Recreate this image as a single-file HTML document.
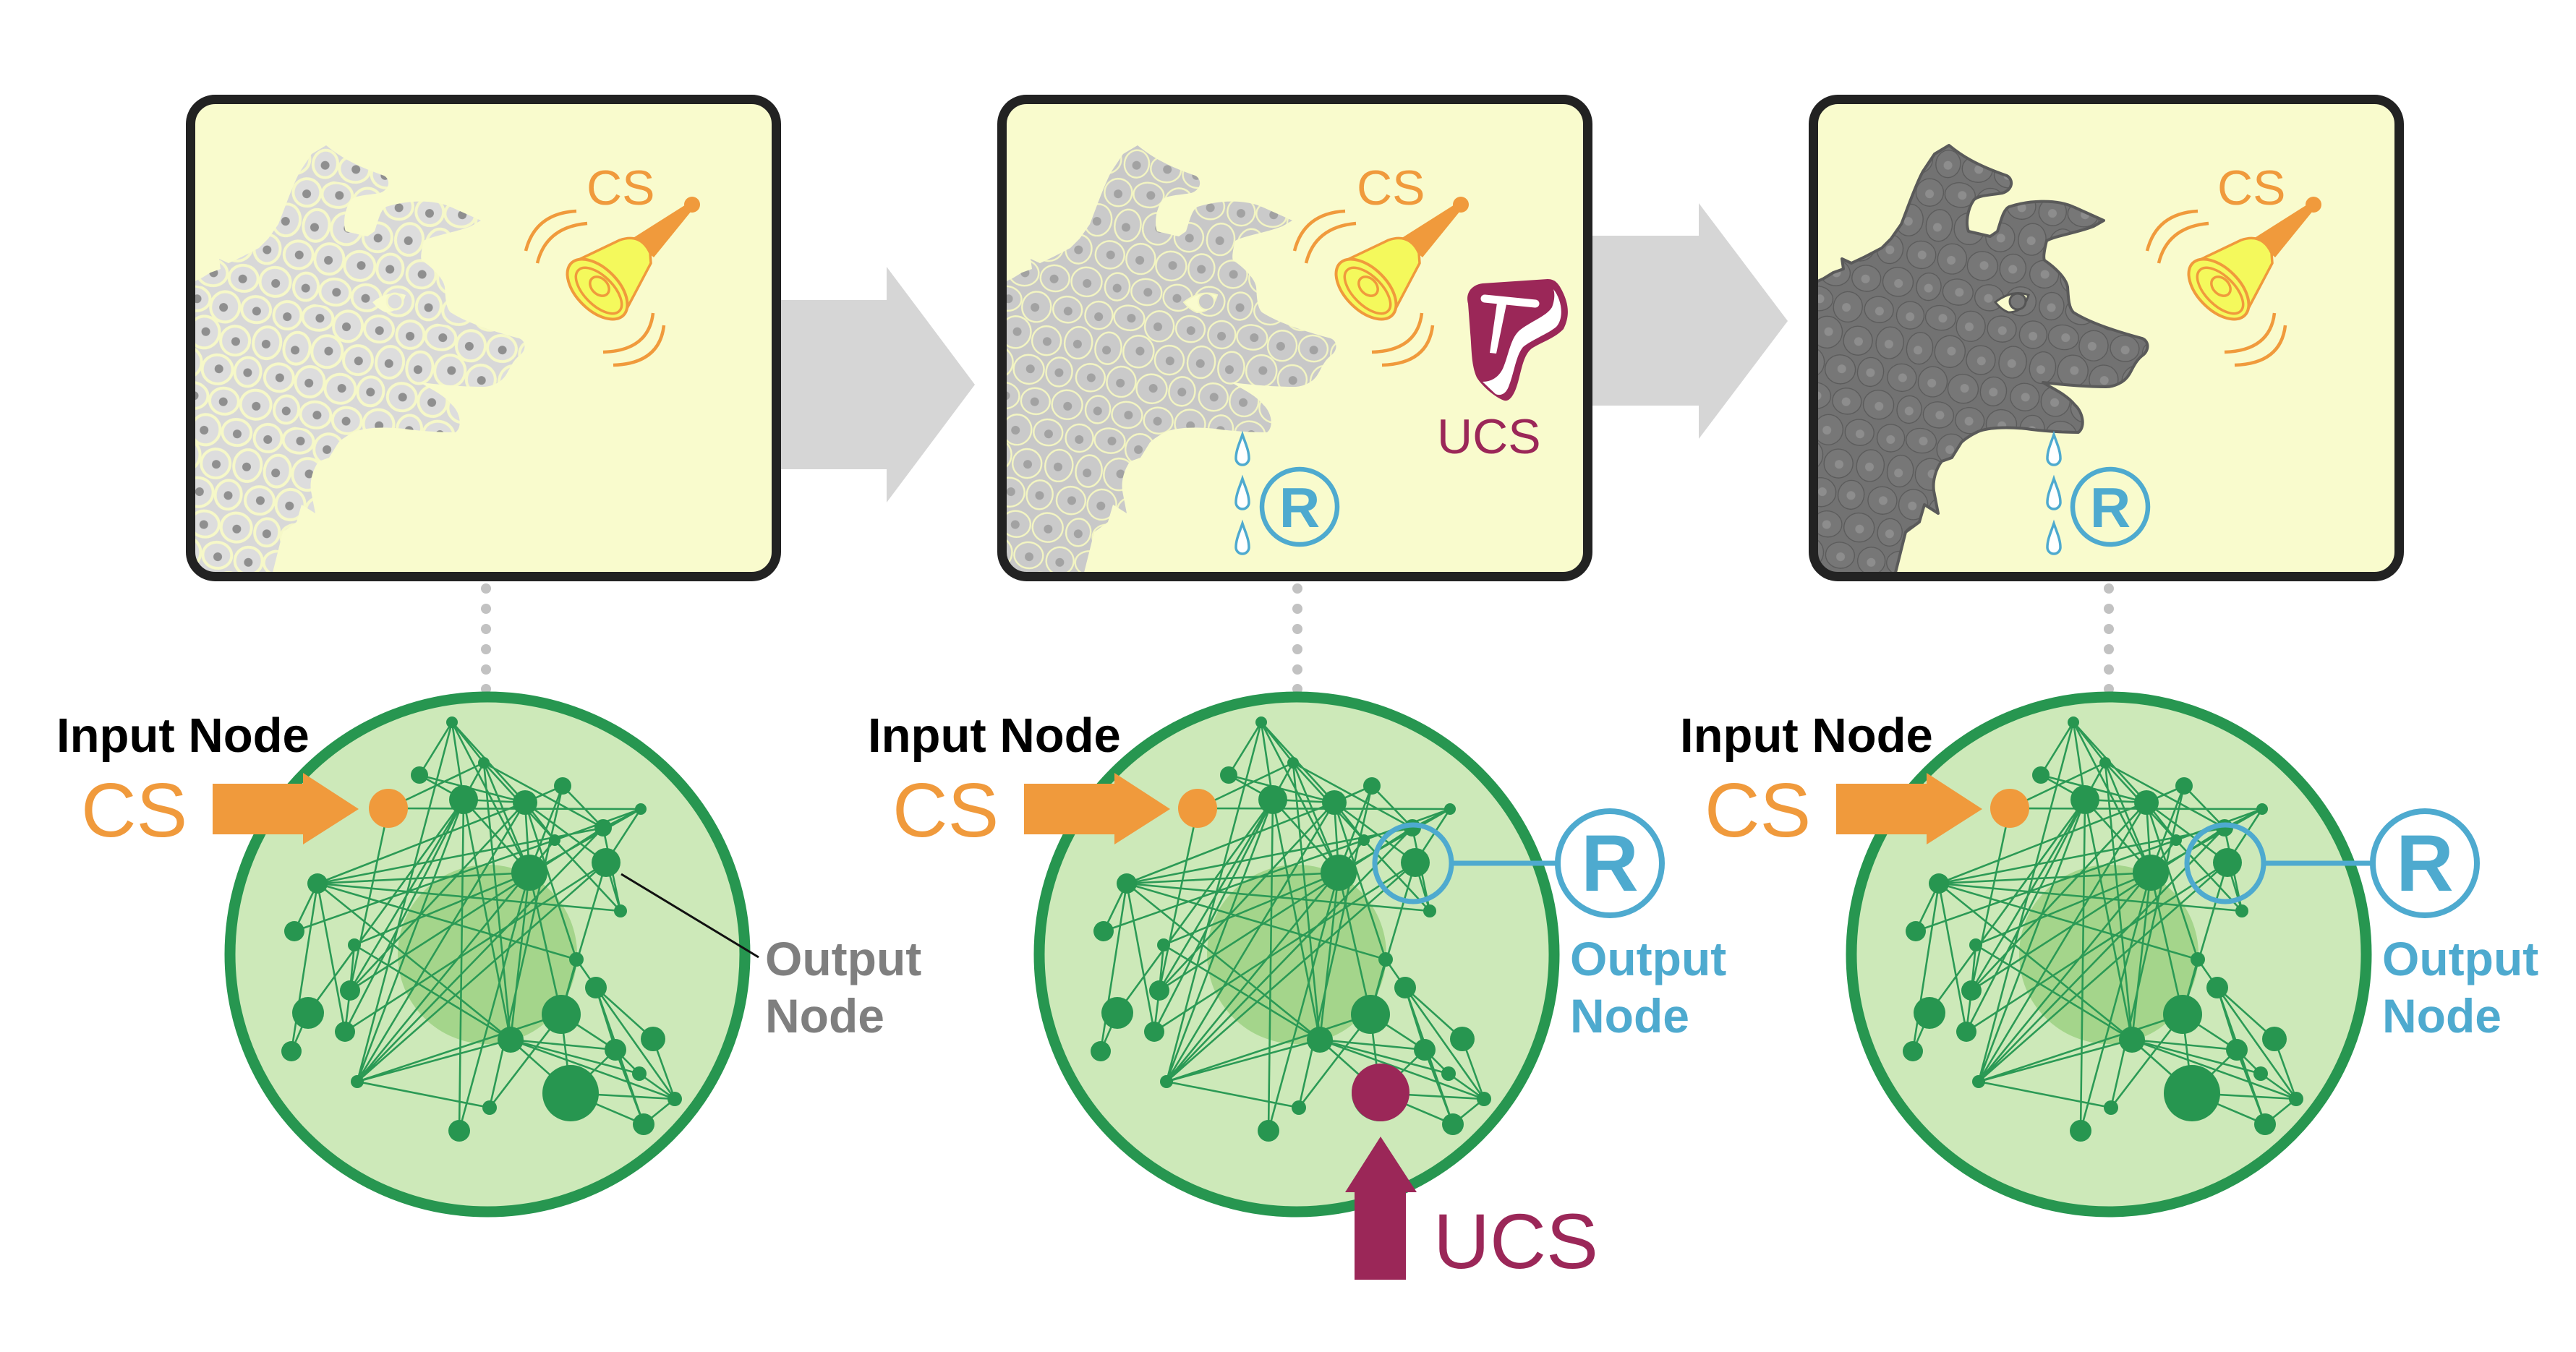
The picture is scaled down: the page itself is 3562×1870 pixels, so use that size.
<!DOCTYPE html>
<html>
<head>
<meta charset="utf-8">
<style>
html,body{margin:0;padding:0;background:#fff;}
body{width:3562px;height:1870px;overflow:hidden;}
svg{display:block;font-family:"Liberation Sans",Arial,sans-serif;}
</style>
</head>
<body>
<svg xmlns="http://www.w3.org/2000/svg" width="3562" height="1870" viewBox="0 0 3562 1870">
<defs>
  <g id="cellE">
    <ellipse cx="21" cy="21" rx="19" ry="19"/>
    <ellipse cx="63" cy="18" rx="21" ry="17"/>
    <ellipse cx="106" cy="23" rx="20" ry="21"/>
    <ellipse cx="149" cy="20" rx="20" ry="18"/>
    <ellipse cx="41" cy="64" rx="18" ry="22"/>
    <ellipse cx="83" cy="62" rx="21" ry="22"/>
    <ellipse cx="127" cy="67" rx="20" ry="20"/>
    <ellipse cx="171" cy="63" rx="19" ry="22"/>
    <ellipse cx="-1" cy="63" rx="19" ry="22"/>
    <ellipse cx="23" cy="108" rx="20" ry="19"/>
    <ellipse cx="66" cy="107" rx="20" ry="21"/>
    <ellipse cx="109" cy="110" rx="21" ry="20"/>
    <ellipse cx="151" cy="107" rx="18" ry="20"/>
    <ellipse cx="40" cy="150" rx="17" ry="19"/>
    <ellipse cx="81" cy="151" rx="21" ry="18"/>
    <ellipse cx="125" cy="152" rx="20" ry="18"/>
    <ellipse cx="169" cy="150" rx="21" ry="20"/>
    <ellipse cx="-3" cy="150" rx="21" ry="20"/>
  </g>
  <g id="cellD">
    <circle cx="21" cy="23" r="6"/><circle cx="66" cy="18" r="6"/><circle cx="104" cy="24" r="6"/><circle cx="150" cy="22" r="6"/>
    <circle cx="39" cy="67" r="6"/><circle cx="85" cy="61" r="6"/><circle cx="128" cy="68" r="6"/><circle cx="170" cy="65" r="6"/><circle cx="-2" cy="65" r="6"/>
    <circle cx="24" cy="108" r="6"/><circle cx="65" cy="109" r="6"/><circle cx="111" cy="109" r="6"/><circle cx="151" cy="108" r="6"/>
    <circle cx="40" cy="152" r="6"/><circle cx="83" cy="151" r="6"/><circle cx="124" cy="153" r="6"/><circle cx="170" cy="152" r="6"/><circle cx="-2" cy="152" r="6"/>
  </g>
  <pattern id="c1" width="172" height="172" patternUnits="userSpaceOnUse" patternTransform="rotate(9)">
    <rect width="172" height="172" fill="#d8d8d8"/>
    <use href="#cellE" fill="#dddddd" stroke="#f6f8c8" stroke-width="4"/>
    <use href="#cellD" fill="#8f8f8f"/>
  </pattern>
  <pattern id="c2" width="172" height="172" patternUnits="userSpaceOnUse" patternTransform="rotate(9)">
    <rect width="172" height="172" fill="#c8c8c8"/>
    <use href="#cellE" fill="#cacaca" stroke="#f3f5c2" stroke-width="2.4"/>
    <use href="#cellD" fill="#a2a2a2"/>
  </pattern>
  <pattern id="c3" width="172" height="172" patternUnits="userSpaceOnUse" patternTransform="rotate(9)">
    <rect width="172" height="172" fill="#727272"/>
    <use href="#cellE" fill="#777777" stroke="#5a5a5a" stroke-width="1.3"/>
    <use href="#cellD" fill="#8d8d8d"/>
  </pattern>
  <clipPath id="cp1"><rect x="257" y="131" width="823" height="673" rx="40"/></clipPath>
  <clipPath id="cp2"><rect x="1379" y="131" width="823" height="673" rx="40"/></clipPath>
  <clipPath id="cp3"><rect x="2501" y="131" width="823" height="673" rx="40"/></clipPath>

  <path id="dog" d="M1385,392 L1400,385 L1413,377 L1427,372 L1425,358 L1438,364 L1457,355 L1480,343 L1493,330 L1507,310
    C1515,290 1527,255 1537,237 L1553,213 L1573,201
    C1590,215 1610,228 1653,243 C1662,248 1662,262 1647,267 C1630,270 1612,270 1607,277
    C1598,290 1596,310 1600,320 L1630,327 L1640,320 C1645,305 1648,290 1656,286
    C1680,278 1720,274 1747,287 L1787,305 L1773,313 C1750,322 1720,326 1708,333
    C1705,345 1703,356 1705,360 C1720,370 1735,385 1737,397 C1738,410 1738,425 1745,432
    C1770,448 1810,460 1840,468 C1850,472 1850,485 1840,492 C1830,500 1826,512 1822,518
    C1815,530 1800,535 1790,535 C1760,535 1730,532 1703,529 C1715,537 1735,545 1747,560
    C1758,570 1762,590 1752,598 C1730,598 1700,596 1680,593 C1660,591 1630,590 1613,597
    C1600,603 1592,610 1590,612 L1577,633 L1563,638 C1555,648 1550,665 1552,679
    L1558,710 L1539,698 L1532,722 L1513,736 L1507,760 L1497,800 L1385,800 Z"/>

  <g id="bell">
    <g fill="none" stroke="#f09a3c" stroke-width="4.5">
      <path d="M797,292 Q740,295 727,347"/>
      <path d="M812,309 Q755,314 743,364"/>
      <path d="M903,433 Q897,485 834,487"/>
      <path d="M918,450 Q912,503 848,505"/>
    </g>
    <polygon points="953,280 960,287 904,356 874,330" fill="#f09a3c"/>
    <circle cx="957" cy="283" r="11" fill="#f09a3c"/>
    <path d="M790,364 L857,332 Q886,322 899,350 L900,364 L862,436 Z" fill="#f4f95c" stroke="#f09a3c" stroke-width="3.5" stroke-linejoin="round"/>
    <ellipse cx="826" cy="400" rx="51" ry="29" transform="rotate(45 826 400)" fill="#f4f95c" stroke="#f09a3c" stroke-width="4"/>
    <ellipse cx="828" cy="402" rx="40" ry="20" transform="rotate(45 828 402)" fill="none" stroke="#f09a3c" stroke-width="3.5"/>
    <ellipse cx="829" cy="396" rx="15" ry="11" transform="rotate(45 829 396)" fill="none" stroke="#f09a3c" stroke-width="3.5"/>
  </g>

  <g id="drops" fill="#ffffff" stroke="#4eaacf" stroke-width="3.5">
    <path d="M0,0 C4,12 9,22 9,33 A9,9 0 0 1 -9,33 C-9,22 -4,12 0,0 Z"/>
    <path d="M0,61 C4,73 9,83 9,94 A9,9 0 0 1 -9,94 C-9,83 -4,73 0,61 Z"/>
    <path d="M0,123 C4,135 9,145 9,156 A9,9 0 0 1 -9,156 C-9,145 -4,135 0,123 Z"/>
  </g>

  <g id="net">
    <circle r="356" fill="#cde9b9" stroke="#279650" stroke-width="15"/>
    <circle r="124" fill="#a4d58b"/>
    <path fill="none" stroke="#2b9a55" stroke-width="2.6" d="
M-137,-202L-5,-265 M-137,-202L212,-201 M-137,-202L-190,50
M-49,-321L-5,-265 M-49,-321L-94,-248 M-49,-321L-33,-214 M-49,-321L52,-210 M-49,-321L58,-113 M-49,-321L-180,176
M-5,-265L-33,-214 M-5,-265L160,-175 M-5,-265L93,-158 M-5,-265L32,118 M-5,-265L58,-113
M-94,-248L-33,-214 M-94,-248L52,-210
M-33,-214L52,-210 M-33,-214L-190,50 M-33,-214L-197,107 M-33,-214L-180,176 M-33,-214L-39,244 M-33,-214L-248,81 M-33,-214L58,-113 M-33,-214L32,118
M52,-210L104,-233 M52,-210L-235,-98 M52,-210L93,-158 M52,-210L123,7 M52,-210L-180,176 M52,-210L58,-113 M52,-210L-190,50 M52,-210L164,-127
M104,-233L160,-175 M104,-233L58,-113 M104,-233L3,212
M212,-201L160,-175 M212,-201L164,-127 M212,-201L93,-158 M212,-201L58,-113
M160,-175L-235,-98 M160,-175L184,-60 M160,-175L-190,50 M160,-175L-180,176
M93,-158L-267,-32 M93,-158L184,-60
M164,-127L184,-60 M164,-127L-197,107 M164,-127L-180,176 M164,-127L102,83
M58,-113L-235,-98 M58,-113L102,83 M58,-113L32,118 M58,-113L-39,244 M58,-113L-184,-13
M-235,-98L184,-60 M-235,-98L-267,-32 M-235,-98L123,7 M-235,-98L-271,134 M-235,-98L-197,107 M-235,-98L32,118
M-184,-13L32,118 M-184,-13L-190,50
M123,7L150,46 M123,7L102,83
M150,46L177,132 M150,46L229,117 M150,46L259,200 M150,46L216,235
M-248,81L-271,134
M102,83L177,132 M102,83L115,192 M102,83L3,212
M32,118L177,132 M32,118L115,192 M32,118L259,200 M32,118L210,165 M32,118L-180,176
M177,132L210,165 M177,132L216,235 M177,132L115,192
M210,165L259,200 M115,192L259,200 M115,192L216,235 M259,200L216,235 M229,117L259,200
M-180,176L3,212 M-180,176L93,-158 M-190,50L-197,107 M-180,176L102,83"/>
    <g fill="#279650">
      <circle cx="-49" cy="-321" r="8"/>
      <circle cx="-5" cy="-265" r="8"/>
      <circle cx="-94" cy="-248" r="12"/>
      <circle cx="-33" cy="-214" r="20"/>
      <circle cx="52" cy="-210" r="17"/>
      <circle cx="104" cy="-233" r="12"/>
      <circle cx="212" cy="-201" r="8"/>
      <circle cx="160" cy="-175" r="12"/>
      <circle cx="93" cy="-158" r="8"/>
      <circle cx="164" cy="-127" r="20"/>
      <circle cx="58" cy="-113" r="25"/>
      <circle cx="-235" cy="-98" r="14"/>
      <circle cx="184" cy="-60" r="9"/>
      <circle cx="-267" cy="-32" r="14"/>
      <circle cx="-184" cy="-13" r="9"/>
      <circle cx="123" cy="7" r="10"/>
      <circle cx="-190" cy="50" r="14"/>
      <circle cx="150" cy="46" r="15"/>
      <circle cx="-248" cy="81" r="22"/>
      <circle cx="102" cy="83" r="27"/>
      <circle cx="-197" cy="107" r="14"/>
      <circle cx="32" cy="118" r="18"/>
      <circle cx="229" cy="117" r="17"/>
      <circle cx="-271" cy="134" r="14"/>
      <circle cx="177" cy="132" r="15"/>
      <circle cx="210" cy="165" r="10"/>
      <circle cx="-180" cy="176" r="9"/>
      <circle cx="115" cy="192" r="39"/>
      <circle cx="259" cy="200" r="10"/>
      <circle cx="3" cy="212" r="10"/>
      <circle cx="216" cy="235" r="15"/>
      <circle cx="-39" cy="244" r="15"/>
    </g>
    <circle cx="-137" cy="-202" r="27" fill="#f09a3c"/>
  </g>
</defs>

<!-- gray arrows -->
<polygon points="1070,415 1226,415 1226,369 1348,532 1226,695 1226,649 1070,649" fill="#d6d6d6"/>
<polygon points="2195,326 2349,326 2349,281 2472,444 2349,607 2349,561 2195,561" fill="#d6d6d6"/>

<!-- panel backgrounds -->
<rect x="263.5" y="137.5" width="810" height="660" rx="34" fill="#f9fbcd"/>
<rect x="1385.5" y="137.5" width="810" height="660" rx="34" fill="#f9fbcd"/>
<rect x="2507.5" y="137.5" width="810" height="660" rx="34" fill="#f9fbcd"/>

<!-- dogs -->
<g clip-path="url(#cp1)">
  <g transform="translate(-1122,0)">
    <use href="#dog" fill="url(#c1)"/>
    <path d="M1637,418 Q1660,400 1683,408 Q1676,432 1655,432 Q1645,428 1637,418 Z" fill="#f9fbcd"/>
    <circle cx="1668" cy="417" r="11" fill="#dddddd" stroke="#f6f8c8" stroke-width="3"/>
  </g>
</g>
<g clip-path="url(#cp2)">
  <use href="#dog" fill="url(#c2)"/>
  <path d="M1637,418 Q1660,400 1683,408 Q1676,432 1655,432 Q1645,428 1637,418 Z" fill="#f9fbcd" stroke="#f3f5c2" stroke-width="2"/>
  <circle cx="1668" cy="417" r="11" fill="#c9c9c9" stroke="#f3f5c2" stroke-width="2"/>
</g>
<g clip-path="url(#cp3)">
  <g transform="translate(1122,0)">
    <use href="#dog" fill="url(#c3)" stroke="#5a5a5a" stroke-width="4" stroke-linejoin="round"/>
    <path d="M1637,418 Q1660,400 1683,408 Q1676,432 1655,432 Q1645,428 1637,418 Z" fill="#f9fbcd" stroke="#555" stroke-width="3"/>
    <circle cx="1668" cy="417" r="11" fill="#777" stroke="#555" stroke-width="3"/>
  </g>
</g>

<!-- bells -->
<use href="#bell"/>
<g transform="translate(1063,0)"><use href="#bell"/></g>
<g transform="translate(2242,0)"><use href="#bell"/></g>
<text x="811" y="283" font-size="68" fill="#f09a3c">CS</text>
<text x="1876" y="283" font-size="68" fill="#f09a3c">CS</text>
<text x="3066" y="283" font-size="68" fill="#f09a3c">CS</text>

<!-- steak -->
<path d="M2030,420 C2026,405 2035,394 2050,392 L2140,386 C2150,386 2155,392 2160,402 C2168,418 2172,435 2162,455 C2150,468 2130,474 2118,482 C2108,490 2105,505 2100,525 C2095,545 2088,556 2080,554 C2068,550 2050,535 2042,522 C2034,505 2035,480 2033,460 Z" fill="#9b2758"/>
<path d="M2148,400 C2160,415 2163,440 2152,452 C2140,462 2118,470 2106,480 C2096,492 2094,515 2086,535 C2082,545 2075,548 2068,545 L2050,528 C2062,528 2072,522 2078,510 C2086,492 2088,470 2100,458 C2115,445 2138,438 2146,425 C2150,415 2150,405 2148,400 Z" fill="#ffffff"/>
<line x1="2053" y1="413" x2="2123" y2="420" stroke="#ffffff" stroke-width="11" stroke-linecap="round"/>
<polygon points="2070,419 2083,421 2069,489 2060,488" fill="#ffffff"/>
<text x="1987" y="627" font-size="68" fill="#9b2758">UCS</text>

<!-- drops and R in panels -->
<g transform="translate(1718,601)"><use href="#drops"/></g>
<g transform="translate(2840,601)"><use href="#drops"/></g>
<circle cx="1797" cy="701" r="52" fill="none" stroke="#4eaacf" stroke-width="6.5"/>
<text x="1797" y="729" font-size="78" font-weight="bold" fill="#4eaacf" text-anchor="middle">R</text>
<circle cx="2918" cy="701" r="52" fill="none" stroke="#4eaacf" stroke-width="6.5"/>
<text x="2918" y="729" font-size="78" font-weight="bold" fill="#4eaacf" text-anchor="middle">R</text>

<!-- panel borders -->
<rect x="263.5" y="137.5" width="810" height="660" rx="34" fill="none" stroke="#222" stroke-width="13"/>
<rect x="1385.5" y="137.5" width="810" height="660" rx="34" fill="none" stroke="#222" stroke-width="13"/>
<rect x="2507.5" y="137.5" width="810" height="660" rx="34" fill="none" stroke="#222" stroke-width="13"/>

<!-- dotted connectors -->
<g fill="#c2c2c2">
  <circle cx="672" cy="814" r="7"/><circle cx="672" cy="842" r="7"/><circle cx="672" cy="870" r="7"/><circle cx="672" cy="898" r="7"/><circle cx="672" cy="926" r="7"/><circle cx="672" cy="953" r="7"/>
  <circle cx="1794" cy="814" r="7"/><circle cx="1794" cy="842" r="7"/><circle cx="1794" cy="870" r="7"/><circle cx="1794" cy="898" r="7"/><circle cx="1794" cy="926" r="7"/><circle cx="1794" cy="953" r="7"/>
  <circle cx="2916" cy="814" r="7"/><circle cx="2916" cy="842" r="7"/><circle cx="2916" cy="870" r="7"/><circle cx="2916" cy="898" r="7"/><circle cx="2916" cy="926" r="7"/><circle cx="2916" cy="953" r="7"/>
</g>

<!-- networks -->
<g transform="translate(674,1320)"><use href="#net"/></g>
<g transform="translate(1793,1320)"><use href="#net"/></g>
<g transform="translate(2916,1320)"><use href="#net"/></g>

<!-- circle 1 labels -->
<text x="78" y="1040" font-size="67" font-weight="bold" fill="#000">Input Node</text>
<text x="112" y="1157" font-size="106" fill="#f09a3c">CS</text>
<polygon points="294,1084 419,1084 419,1069 496,1119 419,1168 419,1154 294,1154" fill="#f09a3c"/>
<line x1="859" y1="1209" x2="1049" y2="1324" stroke="#111" stroke-width="3"/>
<text x="1058" y="1349" font-size="66" font-weight="bold" fill="#7f7f7f">Output</text>
<text x="1058" y="1428" font-size="66" font-weight="bold" fill="#7f7f7f">Node</text>

<!-- circle 2 labels -->
<text x="1200" y="1040" font-size="67" font-weight="bold" fill="#000">Input Node</text>
<text x="1234" y="1157" font-size="106" fill="#f09a3c">CS</text>
<polygon points="1416,1084 1541,1084 1541,1069 1618,1119 1541,1168 1541,1154 1416,1154" fill="#f09a3c"/>
<circle cx="1954" cy="1194" r="53" fill="none" stroke="#4eaacf" stroke-width="7"/>
<line x1="2007" y1="1194" x2="2154" y2="1194" stroke="#4eaacf" stroke-width="7"/>
<circle cx="2226" cy="1194" r="72" fill="#ffffff" stroke="#4eaacf" stroke-width="8"/>
<text x="2226" y="1232" font-size="110" font-weight="bold" fill="#4eaacf" text-anchor="middle">R</text>
<text x="2171" y="1349" font-size="66" font-weight="bold" fill="#4eaacf">Output</text>
<text x="2171" y="1428" font-size="66" font-weight="bold" fill="#4eaacf">Node</text>
<circle cx="1909" cy="1511" r="40" fill="#9b2758"/>
<polygon points="1873,1770 1873,1649 1860,1649 1909,1572 1959,1649 1944,1649 1944,1770" fill="#9b2758"/>
<text x="1982" y="1754" font-size="108" fill="#9b2758">UCS</text>

<!-- circle 3 labels -->
<text x="2323" y="1040" font-size="67" font-weight="bold" fill="#000">Input Node</text>
<text x="2357" y="1157" font-size="106" fill="#f09a3c">CS</text>
<polygon points="2539,1084 2664,1084 2664,1069 2741,1119 2664,1168 2664,1154 2539,1154" fill="#f09a3c"/>
<circle cx="3077" cy="1194" r="53" fill="none" stroke="#4eaacf" stroke-width="7"/>
<line x1="3130" y1="1194" x2="3281" y2="1194" stroke="#4eaacf" stroke-width="7"/>
<circle cx="3353" cy="1194" r="72" fill="#ffffff" stroke="#4eaacf" stroke-width="8"/>
<text x="3353" y="1232" font-size="110" font-weight="bold" fill="#4eaacf" text-anchor="middle">R</text>
<text x="3294" y="1349" font-size="66" font-weight="bold" fill="#4eaacf">Output</text>
<text x="3294" y="1428" font-size="66" font-weight="bold" fill="#4eaacf">Node</text>
</svg>
</body>
</html>
